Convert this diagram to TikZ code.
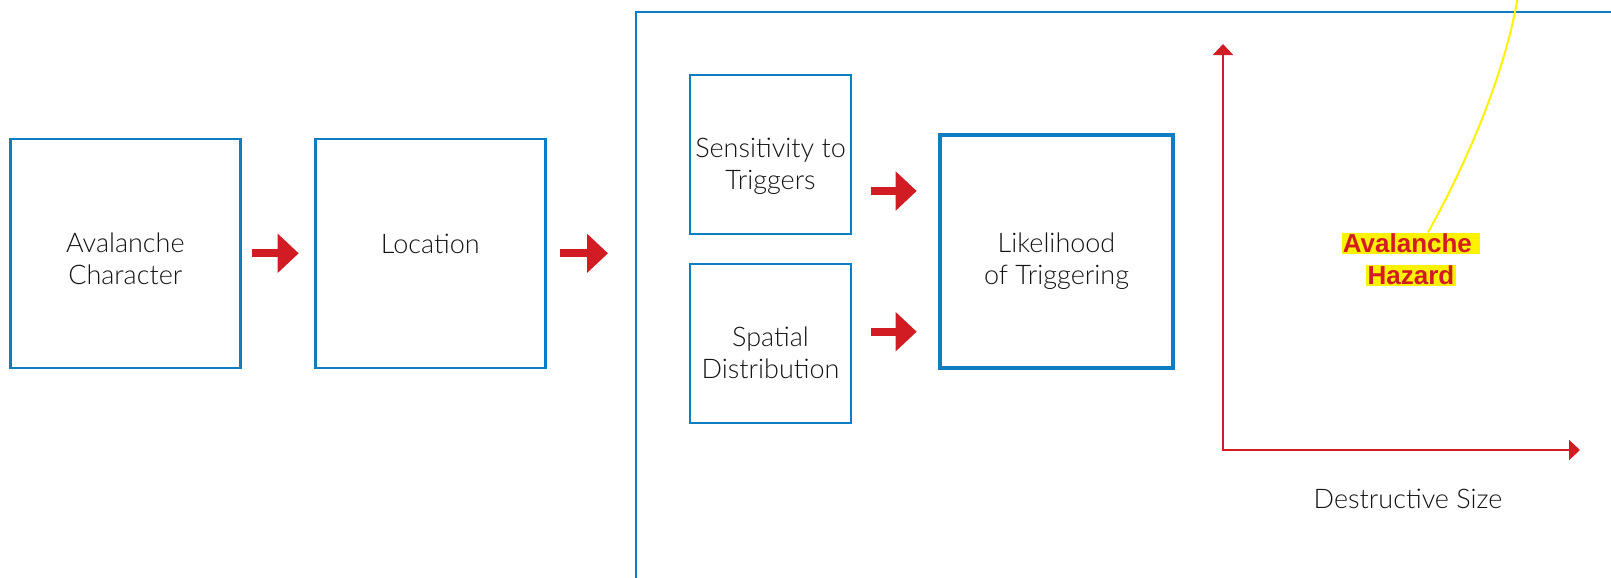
\documentclass[tikz,border=0pt]{standalone}
\usepackage{fontspec}
\setmainfont{Lato Light}
\newfontfamily\hazardfont{Liberation Sans}
\usetikzlibrary{arrows.meta, positioning, calc}

\definecolor{boxblue}{RGB}{14,126,194}
\definecolor{flowred}{RGB}{210,28,36}
\definecolor{hazardyellow}{RGB}{255,242,0}

% yellow marker behind each line of the hazard label
\newcommand{\hilite}[1]{{\setlength{\fboxsep}{0.6pt}\colorbox{hazardyellow}{#1}}}

\begin{document}
\begin{tikzpicture}[
    x=0.5pt, y=-0.5pt,
    font=\fontsize{13.5}{16}\selectfont,
    box/.style={draw=boxblue, line width=1.2pt,
                minimum width=115pt, minimum height=114.5pt, inner sep=0pt},
    smallbox/.style={box, minimum width=80.5pt, minimum height=79.5pt},
    boxtext/.style={align=center, text=black!92, inner sep=1pt},
    flow/.style={draw=flowred, line width=4pt, -{Triangle[length=10.5pt, width=19pt]}},
    axis/.style={draw=flowred, line width=1pt,
                 {Triangle[length=5.5pt, width=10pt]}-{Triangle[length=5.5pt, width=10pt]}},
    leader/.style={draw=hazardyellow, line width=1pt},
]
    \useasboundingbox (0,0) rectangle (1611,578);
    \clip (0,0) rectangle (1611,578);

    %==================== INPUT CHAIN ====================
    \node[box] (character) at (125.3,253.3) {};
    \node[boxtext, yshift=-2.8pt] (charactertext) at (character) {Avalanche\\Character};

    \node[box, right=36.3pt of character] (location) {};
    \node[boxtext, yshift=4.5pt] (locationtext) at (location) {Location};
    \draw[flow, shorten <=5.3pt, shorten >=7.7pt] (character) -- (location);

    %==================== LIKELIHOOD FRAME ====================
    \draw[draw=boxblue, line width=1.3pt] (1640,12) -| (636,600);
    \coordinate (frame) at (636,253.3);
    \draw[flow, shorten <=6.75pt, shorten >=14pt] (location) -- (frame);

    \node[smallbox] (sensitivity) at (770.5,154.5) {};
    \node[boxtext, yshift=-5.9pt] (sensitivitytext) at (sensitivity) {Sensitivity to\\Triggers};
    \node[smallbox, below=13.8pt of sensitivity] (spatial) {};
    \node[boxtext, yshift=-4.6pt] (spatialtext) at (spatial) {Spatial\\Distribution};

    \node[box, line width=2.3pt, minimum width=116.5pt, minimum height=116.5pt]
        (likelihood) at (1056.5,251.5) {};
    \node[boxtext, yshift=-5pt] (likelihoodtext) at (likelihood) {Likelihood\\of Triggering};

    \coordinate (sensout) at ($(sensitivity.east)+(0,36.5)$);
    \coordinate (spatout) at ($(spatial.east)+(0,-11.8)$);
    \draw[flow, shorten <=9.5pt, shorten >=10.5pt] (sensout) -- (sensout -| likelihood.west);
    \draw[flow, shorten <=9.5pt, shorten >=10.5pt] (spatout) -- (spatout -| likelihood.west);

    %==================== HAZARD AXES ====================
    \coordinate (origin) at (1223,450);
    \coordinate (ytop) at (1223,44);
    \coordinate (xend) at (1580,450);
    \draw[axis] (ytop) -- (origin) -- (xend);
    \node[boxtext] (sizelabel) at (1408,499) {Destructive Size};

    \node[align=center, inner sep=0pt, text=flowred,
          font=\hazardfont\bfseries\fontsize{13}{16}\selectfont]
        (hazard) at (1411,259.5) {\hilite{Avalanche }\\\hilite{Hazard}};
    \coordinate (leadend) at (1519,-10);
    \draw[leader] ([xshift=8.5pt]hazard.north) .. controls (1460,175) and (1505,80) .. (leadend);

\end{tikzpicture}
\end{document}
